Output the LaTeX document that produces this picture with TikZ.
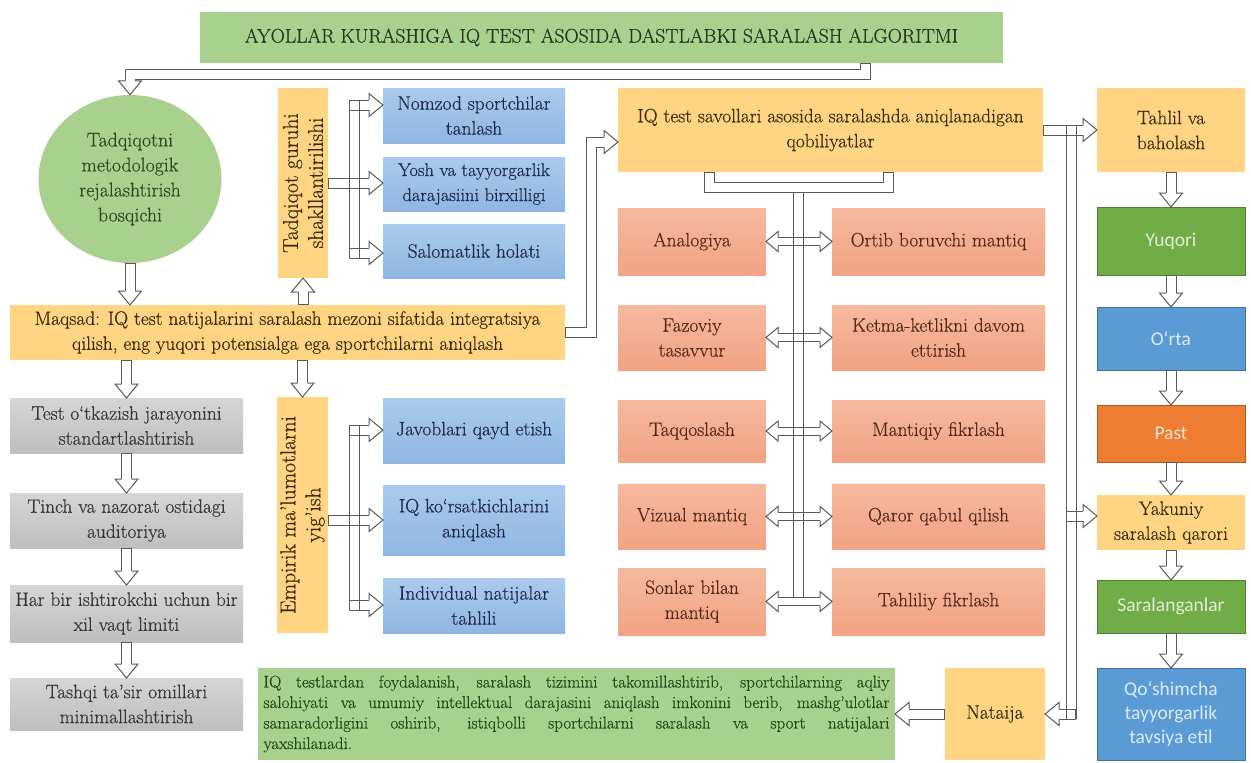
\documentclass[tikz,border=0pt]{standalone}
\usepackage{fontspec}
\setmainfont{Latin Modern Roman}[FakeBold=0.5]
\newfontfamily\calib{Carlito}
\usetikzlibrary{calc,shapes.geometric}
\definecolor{ttl}{HTML}{A9D18E}
\definecolor{ttltx}{HTML}{263520}
\definecolor{circtx}{HTML}{2C4A20}
\definecolor{ltor}{HTML}{FFD584}
\definecolor{ortx}{HTML}{3D2A10}
\definecolor{ltblT}{HTML}{AACBEC}
\definecolor{ltblB}{HTML}{8FB6E2}
\definecolor{bltx}{HTML}{1E2C48}
\definecolor{salT}{HTML}{F6B99E}
\definecolor{salB}{HTML}{F2A383}
\definecolor{saltx}{HTML}{55291A}
\definecolor{grT}{HTML}{D5D5D5}
\definecolor{grB}{HTML}{BEBEBE}
\definecolor{grtx}{HTML}{383838}
\definecolor{dgreen}{HTML}{70AD47}
\definecolor{dgreenD}{HTML}{507E32}
\definecolor{mblue}{HTML}{5B9BD5}
\definecolor{mblueD}{HTML}{41719C}
\definecolor{orng}{HTML}{ED7D31}
\definecolor{orngD}{HTML}{AE5A21}
\definecolor{agray}{HTML}{5A5A5A}
\definecolor{restx}{HTML}{1F4A16}
\definecolor{gtx}{HTML}{E2EFDA}
\definecolor{btx}{HTML}{DDEBF7}
\definecolor{otx}{HTML}{FBE5D6}
\newcommand\mfs{\fontsize{19.4}{25}\selectfont}
\newcommand\cfs{\calib\fontsize{19.5}{24}\selectfont}
\newcommand\harrow[3]{%
  \draw[line width=11pt, agray] #1 -- ($#3!14pt!#2$);%
  \draw[line width=9pt, white, shorten <=1pt] #1 -- ($#3!14pt!#2$);%
  \filldraw[fill=white, draw=agray, line width=1pt] ($#3!14pt!#2!5pt!90:#2$) -- ($#3!14pt!#2!11.5pt!90:#2$) -- #3 -- ($#3!14pt!#2!11.5pt!-90:#2$) -- ($#3!14pt!#2!5pt!-90:#2$);%
}
\newcommand\dpath[1]{%
  \draw[line width=11pt, agray] #1;%
  \draw[line width=9pt, white, shorten <=1pt, shorten >=1pt] #1;%
}
\newcommand\dharrow[2]{%
  \draw[line width=9pt, agray] ($#1!12pt!#2$) -- ($#2!12pt!#1$);%
  \draw[line width=7pt, white] ($#1!12pt!#2$) -- ($#2!12pt!#1$);%
  \filldraw[fill=white, draw=agray, line width=1pt] ($#2!12pt!#1!4pt!90:#1$) -- ($#2!12pt!#1!10pt!90:#1$) -- #2 -- ($#2!12pt!#1!10pt!-90:#1$) -- ($#2!12pt!#1!4pt!-90:#1$);%
  \filldraw[fill=white, draw=agray, line width=1pt] ($#1!12pt!#2!4pt!90:#2$) -- ($#1!12pt!#2!10pt!90:#2$) -- #1 -- ($#1!12pt!#2!10pt!-90:#2$) -- ($#1!12pt!#2!4pt!-90:#2$);%
}
\newcommand\vpair[2]{%
  \draw[agray, line width=1pt] ($#1+(-5,0)$) -- ($#2+(-5,0)$);%
  \draw[agray, line width=1pt] ($#1+(5,0)$) -- ($#2+(5,0)$);%
}
\tikzset{
  box/.style={anchor=north west, inner sep=0pt, outer sep=0pt, align=center, font=\mfs},
  obox/.style={box, fill=ltor, text=ortx},
  bbox/.style={box, top color=ltblT, bottom color=ltblB, text=bltx},
  sbox/.style={box, top color=salT, bottom color=salB, text=saltx},
  gbox/.style={box, top color=grT, bottom color=grB, text=grtx},
  cbox/.style={box, font=\cfs, line width=1pt},
  vbox/.style={rotate=90, anchor=center, inner sep=0pt, outer sep=0pt, fill=ltor, text=ortx, align=center, font=\fontsize{21.5}{25}\selectfont},
}
\begin{document}
\begin{tikzpicture}[x=1pt,y=-1pt]
\useasboundingbox[fill=white] (0,0) rectangle (1251,763);
% ---------- boxes ----------
\node[box, fill=ttl, text=ttltx, minimum width=803pt, minimum height=51pt, font=\fontsize{19.7}{24}\selectfont] (ttl) at (200,12) {AYOLLAR KURASHIGA IQ TEST ASOSIDA DASTLABKI SARALASH ALGORITMI};
\node[ellipse, fill=ttl, text=circtx, minimum width=183pt, minimum height=168pt, inner sep=0pt, align=center, font=\fontsize{19.8}{25}\selectfont] (circ) at (130,179) {Tadqiqotni\\metodologik\\rejalashtirish\\bosqichi};
\node[vbox, minimum width=190pt, minimum height=50pt] (tg) at (303,183) {Tadqiqot guruhi\\shakllantirilishi};
\node[bbox, minimum width=182pt, minimum height=55pt] (nom) at (383,88) {Nomzod sportchilar\\tanlash};
\node[bbox, minimum width=182pt, minimum height=54pt, font=\fontsize{18.4}{25}\selectfont] (yosh) at (383,157) {Yosh va tayyorgarlik\\darajasiini birxilligi};
\node[bbox, minimum width=182pt, minimum height=54pt] (sal) at (383,224) {Salomatlik holati};
\node[obox, minimum width=555pt, minimum height=55pt] (maq) at (10,305) {Maqsad: IQ test natijalarini saralash mezoni sifatida integratsiya\\qilish, eng yuqori potensialga ega sportchilarni aniqlash};
\node[gbox, minimum width=233pt, minimum height=55pt] (test) at (10,398) {Test o‘tkazish jarayonini\\standartlashtirish};
\node[gbox, minimum width=233pt, minimum height=55pt] (tinch) at (10,493) {Tinch va nazorat ostidagi\\auditoriya};
\node[gbox, minimum width=233pt, minimum height=57pt] (har) at (10,585) {Har bir ishtirokchi uchun bir\\xil vaqt limiti};
\node[gbox, minimum width=233pt, minimum height=52pt] (tash) at (10,678) {Tashqi ta’sir omillari\\minimallashtirish};
\node[vbox, minimum width=236pt, minimum height=51pt] (emp) at (302.5,515) {Empirik ma’lumotlarni\\yig’ish};
\node[bbox, minimum width=182pt, minimum height=65pt] (jav) at (383,398) {Javoblari qayd etish};
\node[bbox, minimum width=182pt, minimum height=70pt] (iqk) at (383,485) {IQ ko‘rsatkichlarini\\aniqlash};
\node[bbox, minimum width=182pt, minimum height=55pt] (ind) at (383,578) {Individual natijalar\\tahlili};
\node[obox, minimum width=425pt, minimum height=84pt] (iq) at (618,88) {IQ test savollari asosida saralashda aniqlanadigan\\qobiliyatlar};
\node[sbox, minimum width=148pt, minimum height=67pt] (ana) at (618,208) {Analogiya};
\node[sbox, minimum width=213pt, minimum height=67pt] (ort) at (832,208) {Ortib boruvchi mantiq};
\node[sbox, minimum width=148pt, minimum height=65pt] (faz) at (618,305) {Fazoviy\\tasavvur};
\node[sbox, minimum width=213pt, minimum height=65pt] (ket) at (832,305) {Ketma-ketlikni davom\\ettirish};
\node[sbox, minimum width=148pt, minimum height=62pt] (taq) at (618,400) {Taqqoslash};
\node[sbox, minimum width=213pt, minimum height=62pt] (man) at (832,400) {Mantiqiy fikrlash};
\node[sbox, minimum width=148pt, minimum height=65pt] (viz) at (618,484) {Vizual mantiq};
\node[sbox, minimum width=213pt, minimum height=65pt] (qar) at (832,484) {Qaror qabul qilish};
\node[sbox, minimum width=148pt, minimum height=67pt] (son) at (618,568) {Sonlar bilan\\mantiq};
\node[sbox, minimum width=213pt, minimum height=67pt] (tah2) at (832,568) {Tahliliy fikrlash};
\node[obox, minimum width=148pt, minimum height=84pt] (tah) at (1097,88) {Tahlil va\\baholash};
\node[cbox, fill=dgreen, draw=dgreenD, text=gtx, minimum width=148pt, minimum height=68pt] (yuq) at (1097,207) {Yuqori};
\node[cbox, fill=mblue, draw=mblueD, text=btx, minimum width=148pt, minimum height=63pt] (orta) at (1097,307) {O‘rta};
\node[cbox, fill=orng, draw=orngD, text=otx, minimum width=148pt, minimum height=57pt] (past) at (1097,405) {Past};
\node[obox, minimum width=148pt, minimum height=55pt] (yak) at (1097,495) {Yakuniy\\saralash qarori};
\node[cbox, fill=dgreen, draw=dgreenD, text=gtx, minimum width=148pt, minimum height=53pt] (sara) at (1097,580) {Saralanganlar};
\node[cbox, fill=mblue, draw=mblueD, text=btx, minimum width=148pt, minimum height=92pt] (qosh) at (1097,668) {Qo‘shimcha\\tayyorgarlik\\tavsiya etil};
\node[obox, minimum width=100pt, minimum height=92pt] (nat) at (945,668) {Nataija};
\node[box, fill=ttl, text=restx, minimum width=637pt, minimum height=92pt, align=left, font=\fontsize{17}{20.5}\selectfont] (res) at (258,668) {\makebox[626pt][s]{IQ testlardan foydalanish, saralash tizimini takomillashtirib, sportchilarning aqliy}\\\makebox[626pt][s]{salohiyati va umumiy intellektual darajasini aniqlash imkonini berib, mashg'ulotlar}\\\makebox[626pt][s]{samaradorligini oshirib, istiqbolli sportchilarni saralash va sport natijalari}\\yaxshilanadi.};
% ---------- connectors ----------
\coordinate (t1) at ($(ttl.south west)+(665,0)$);
\coordinate (t2) at ($(t1)+(0,11)$);
\coordinate (t3) at (circ.north |- t2);
\harrow{(t1) -- (t2) -- (t3)}{(t3)}{(circ.north)}
\harrow{(circ.south)}{(circ.south)}{(circ.south |- maq.north)}
\harrow{(maq.north -| tg.center)}{(maq.north -| tg.center)}{(tg.west)}
\harrow{(maq.south -| emp.center)}{(maq.south -| emp.center)}{(emp.east)}
\harrow{(maq.south -| test.north)}{(maq.south -| test.north)}{(test.north)}
\harrow{(test.south)}{(test.south)}{(tinch.north)}
\harrow{(tinch.south)}{(tinch.south)}{(har.north)}
\harrow{(har.south)}{(har.south)}{(tash.north)}
% Tadqiqot branch
\harrow{(tg.south)}{(tg.south)}{(tg.south -| yosh.west)}
\coordinate (b1) at (349,105);
\coordinate (b2) at (349,253);
\harrow{(b1)}{(b1)}{(b1 -| nom.west)}
\harrow{(b2)}{(b2)}{(b2 -| sal.west)}
\coordinate (bt) at (354,100);
\coordinate (bb) at (354,258);
\vpair{(bt)}{(bb)}
% Empirik branch
\harrow{(emp.south |- iqk.west)}{(emp.south |- iqk.west)}{(iqk.west)}
\coordinate (e1) at (349,430);
\coordinate (e2) at (349,605);
\harrow{(e1)}{(e1)}{(e1 -| jav.west)}
\harrow{(e2)}{(e2)}{(e2 -| ind.west)}
\coordinate (et) at (354,425);
\coordinate (eb) at (354,610);
\vpair{(et)}{(eb)}
% Maqsad -> IQ
\coordinate (m1) at ($(maq.east)+(26,0)$);
\coordinate (m2) at ($(m1)+(0,-190.5)$);
\harrow{(maq.east) -- (m1) -- (m2)}{(m2)}{(m2 -| iq.west)}
% IQ bracket and spine
\coordinate (k1) at ($(iq.south west)+(91,0)$);
\coordinate (k2) at ($(k1)+(0,15)$);
\coordinate (k4) at ($(iq.south west)+(270,0)$);
\coordinate (k3) at (k4 |- k2);
\dpath{(k1) -- (k2) -- (k3) -- (k4)}
\dharrow{(ana.east)}{(ort.west)}
\dharrow{(faz.east)}{(ket.west)}
\dharrow{(taq.east)}{(man.west)}
\dharrow{(viz.east)}{(qar.west)}
\dharrow{(son.east)}{(tah2.west)}
\coordinate (s1) at ($(k2)!0.5!(k3)+(0,5)$);
\coordinate (s2) at ($(s1 |- son.east)+(0,-4)$);
\vpair{(s1)}{(s2)}
% right side
\harrow{(iq.east)}{(iq.east)}{(tah.west)}
\coordinate (y1) at (1066,516);
\harrow{(y1)}{(y1)}{(y1 -| yak.west)}
\coordinate (n1) at (nat.east -| 1076,0);
\harrow{(n1)}{(n1)}{(nat.east)}
\coordinate (r1) at (1071,125);
\coordinate (r2) at ($(nat.east -| r1)+(0,5)$);
\vpair{(r1)}{(r2)}
\harrow{(nat.west)}{(nat.west)}{(res.east)}
\harrow{(tah.south)}{(tah.south)}{(yuq.north)}
\harrow{(yuq.south)}{(yuq.south)}{(orta.north)}
\harrow{(orta.south)}{(orta.south)}{(past.north)}
\harrow{(past.south)}{(past.south)}{(yak.north)}
\harrow{(yak.south)}{(yak.south)}{(sara.north)}
\harrow{(sara.south)}{(sara.south)}{(qosh.north)}
\end{tikzpicture}
\end{document}
